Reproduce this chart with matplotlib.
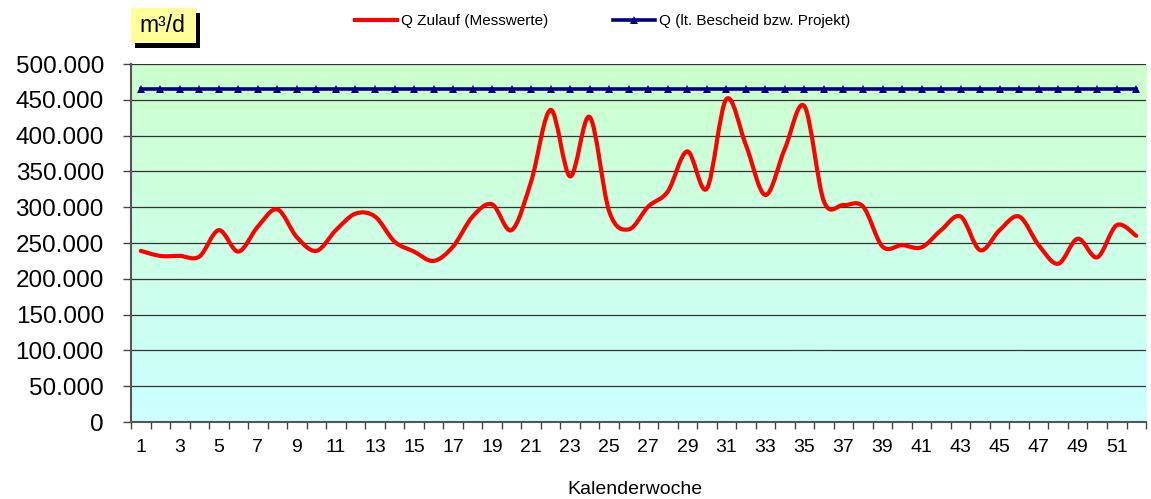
import numpy as np
import matplotlib.pyplot as plt
from matplotlib.path import Path
from matplotlib.patches import PathPatch, Rectangle
from matplotlib.lines import Line2D
from matplotlib.colors import LinearSegmentedColormap

plt.rcParams['font.family'] = ['Liberation Sans', 'DejaVu Sans']

# Kalenderwochen 1..52
weeks = np.arange(1, 53)
q_zulauf = [239000, 232000, 232000, 231000, 268000, 238000, 273000, 297000, 258000, 239000,
            268000, 291000, 287000, 252000, 238000, 225000, 245000, 287000, 304000, 268000,
            336000, 436000, 343000, 426000, 294000, 269000, 301000, 322000, 378000, 326000,
            451000, 387000, 317000, 382000, 441000, 308000, 303000, 301000, 245000, 247000,
            244000, 268000, 287000, 240000, 268000, 287000, 247000, 221000, 256000, 230000,
            275000, 260000]
q_bescheid = [465000] * 52
y_ticks = [0, 50000, 100000, 150000, 200000, 250000, 300000, 350000, 400000, 450000, 500000]
y_labels = ['0', '50.000', '100.000', '150.000', '200.000', '250.000', '300.000',
            '350.000', '400.000', '450.000', '500.000']


def smooth_path(x, y):
    # Excel-like smoothed line as cubic bezier segments
    pts = np.column_stack([x, y]).astype(float)
    n = len(pts)
    verts = [pts[0]]
    codes = [Path.MOVETO]
    for i in range(n - 1):
        p0 = pts[i - 1] if i > 0 else pts[i]
        p1 = pts[i]
        p2 = pts[i + 1]
        p3 = pts[i + 2] if i + 2 < n else pts[i + 1]
        c1 = p1 + (p2 - p0) / 6
        c2 = p2 - (p3 - p1) / 6
        verts += [c1, c2, p2]
        codes += [Path.CURVE4] * 3
    return Path(verts, codes)


fig = plt.figure(figsize=(11.51, 4.99), dpi=100)
ax = fig.add_axes([0.1138, 0.1543, 0.8819, 0.7174])

ax.set_xlim(0.5, 52.5)
ax.set_ylim(0, 500000)

# background gradient
cmap = LinearSegmentedColormap.from_list('bg', ['#CCFFFF', '#CCFFCC'])
grad = np.linspace(0, 1, 256).reshape(-1, 1)
ax.imshow(grad, extent=[0.5, 52.5, 0, 500000], origin='lower', aspect='auto',
          cmap=cmap, zorder=0)

for v in y_ticks[1:]:
    ax.axhline(v, color='#333333', lw=0.9, zorder=1)

ax.plot(weeks, q_bescheid, color='#000080', lw=2.6, marker='^', ms=5.5,
        markeredgewidth=0, zorder=3)
ax.add_patch(PathPatch(smooth_path(weeks, q_zulauf), fill=False, edgecolor='#FF0000',
                       lw=3.0, capstyle='round', joinstyle='round', zorder=4))

ax.set_yticks(y_ticks)
ax.set_yticklabels(y_labels, fontsize=17.5)
ax.tick_params(axis='y', length=6, width=1, color='#444444', pad=13.5)

ax.set_xticks(weeks[::2])
ax.set_xticklabels([str(w) for w in weeks[::2]], fontsize=14)
ax.set_xticks(np.arange(0.5, 53, 1), minor=True)
ax.tick_params(axis='x', which='major', length=0, pad=12)
ax.tick_params(axis='x', which='minor', length=5, width=1, color='#444444')

for side in ['top', 'right']:
    ax.spines[side].set_visible(False)
for side in ['left', 'bottom']:
    ax.spines[side].set_color('#555555')
    ax.spines[side].set_linewidth(1.5)

fig.text(0.552, 0.011, 'Kalenderwoche', ha='center', va='baseline', fontsize=14)

# unit box with shadow
fig.patches.append(Rectangle((135 / 1151, 1 - 48 / 499), 65 / 1151, 35 / 499,
                             transform=fig.transFigure, facecolor='black', edgecolor='none'))
fig.patches.append(Rectangle((131 / 1151, 1 - 43 / 499), 65 / 1151, 35 / 499,
                             transform=fig.transFigure, facecolor='#FFFF99', edgecolor='none'))
fig.text(162 / 1151, 1 - 26 / 499, 'm³/d', ha='center', va='center', fontsize=16.5)

handles = [Line2D([], [], color='#FF0000', lw=3.0),
           Line2D([], [], color='#000080', lw=2.6, marker='^', ms=5.5, markeredgewidth=0,
                  markevery=[1])]
fig.legend(handles, ['Q Zulauf (Messwerte)', 'Q (lt. Bescheid bzw. Projekt)'],
           loc='center', bbox_to_anchor=(0.5235, 0.958), ncol=2, frameon=False,
           fontsize=11, handlelength=2.75, handletextpad=0.3, columnspacing=4.2)

fig.savefig('out.png', dpi=100)
